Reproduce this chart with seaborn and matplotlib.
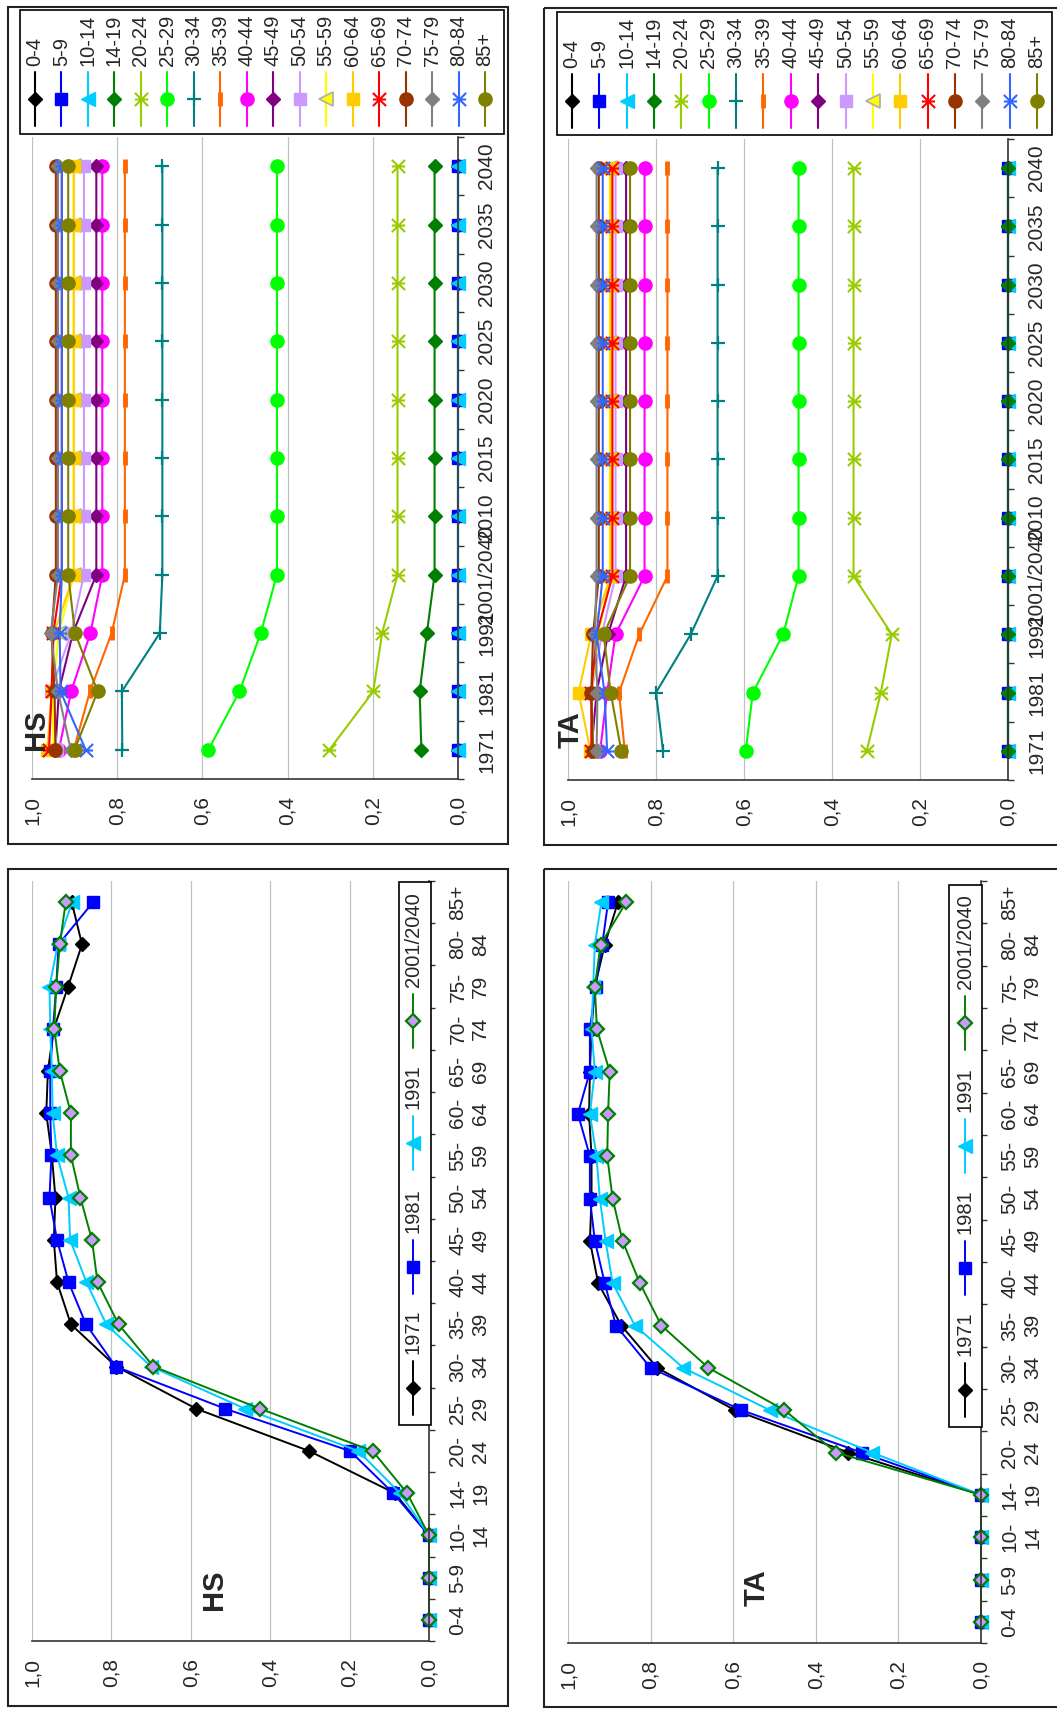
"""Participation rates by age group (HS / TA), rotated landscape panels."""

import matplotlib

matplotlib.use("Agg")

import matplotlib.pyplot as plt
import numpy as np
import seaborn as sns
from matplotlib.patches import Rectangle
from matplotlib.path import Path

AGE_GROUPS = ["0-4", "5-9", "10-14", "14-19", "20-24", "25-29", "30-34", "35-39", "40-44",
              "45-49", "50-54", "55-59", "60-64", "65-69", "70-74", "75-79", "80-84", "85+"]
AGE_TICKS = ["0-4", "5-9", "10-\n14", "14-\n19", "20-\n24", "25-\n29", "30-\n34", "35-\n39",
             "40-\n44", "45-\n49", "50-\n54", "55-\n59", "60-\n64", "65-\n69", "70-\n74",
             "75-\n79", "80-\n84", "85+"]
PROFILE_YEARS = ["1971", "1981", "1991", "2001/2040"]
YEARS = ["1971", "1981", "1991", "2001/2040", "2010", "2015", "2020", "2025", "2030", "2035", "2040"]
# which observed profile each year on the time axis uses (projection holds 2001 rates)
YEAR_PROFILE = ["1971", "1981", "1991", "2001/2040", "2001/2040", "2001/2040", "2001/2040",
                "2001/2040", "2001/2040", "2001/2040", "2001/2040"]

HS_1971 = [0, 0, 0, 0.086, 0.302, 0.586, 0.788, 0.902, 0.937, 0.945, 0.941, 0.950, 0.964, 0.960, 0.945, 0.909, 0.874, 0.900]
HS_1981 = [0, 0, 0, 0.090, 0.199, 0.513, 0.789, 0.864, 0.908, 0.937, 0.956, 0.951, 0.954, 0.954, 0.947, 0.939, 0.933, 0.846]
HS_1991 = [0, 0, 0, 0.073, 0.178, 0.463, 0.700, 0.813, 0.863, 0.904, 0.908, 0.937, 0.948, 0.950, 0.954, 0.956, 0.935, 0.899]
HS_2001 = [0, 0, 0, 0.055, 0.142, 0.425, 0.694, 0.782, 0.835, 0.849, 0.878, 0.902, 0.902, 0.930, 0.944, 0.939, 0.930, 0.915]

TA_1971 = [0, 0, 0, 0, 0.321, 0.596, 0.784, 0.871, 0.927, 0.947, 0.943, 0.943, 0.949, 0.947, 0.943, 0.935, 0.911, 0.879]
TA_1981 = [0, 0, 0, 0, 0.289, 0.580, 0.800, 0.884, 0.911, 0.935, 0.947, 0.947, 0.976, 0.947, 0.947, 0.933, 0.917, 0.903]
TA_1991 = [0, 0, 0, 0, 0.264, 0.511, 0.721, 0.838, 0.892, 0.909, 0.923, 0.931, 0.947, 0.935, 0.943, 0.939, 0.935, 0.919]
TA_2001 = [0, 0, 0, 0, 0.351, 0.476, 0.660, 0.774, 0.826, 0.868, 0.892, 0.905, 0.903, 0.899, 0.930, 0.935, 0.921, 0.859]

HS = dict(zip(PROFILE_YEARS, [HS_1971, HS_1981, HS_1991, HS_2001]))
TA = dict(zip(PROFILE_YEARS, [TA_1971, TA_1981, TA_1991, TA_2001]))

W, H = 1057, 1713
FONT = ["Liberation Sans", "DejaVu Sans"]
AXIS_COLOR = "#333333"
TICK_SIZE = 15

# X with a bar through it (Excel "star" marker turned on its side)
ASTER = Path([(-1, -1), (1, 1), (-1, 1), (1, -1), (-1, 0), (1, 0)],
             [Path.MOVETO, Path.LINETO] * 3)

AGE_STYLES = [
    dict(color="#000000", marker="D", markersize=7.5),
    dict(color="#0000FF", marker="s", markersize=9),
    dict(color="#00CCFF", marker="<", markersize=10),
    dict(color="#008000", marker="D", markersize=7.5),
    dict(color="#99CC00", marker=ASTER, markersize=9.5, markerfacecolor="none", markeredgewidth=1.5),
    dict(color="#00FF00", marker="o", markersize=9.5),
    dict(color="#008080", marker="+", markersize=10.5, markeredgewidth=1.6),
    dict(color="#FF6600", marker="|", markersize=9.5, markeredgewidth=3.5),
    dict(color="#FF00FF", marker="o", markersize=9.5),
    dict(color="#800080", marker="D", markersize=7.5),
    dict(color="#CC99FF", marker="s", markersize=9),
    dict(color="#FFFF00", marker="<", markersize=10, markerfacecolor="#FFFF00", markeredgecolor="#B0B0B0", markeredgewidth=1.3),
    dict(color="#FFCC00", marker="s", markersize=9),
    dict(color="#FF0000", marker=ASTER, markersize=9.5, markerfacecolor="none", markeredgewidth=1.5),
    dict(color="#993300", marker="o", markersize=9.5),
    dict(color="#808080", marker="D", markersize=7.5),
    dict(color="#3366FF", marker=ASTER, markersize=9.5, markerfacecolor="none", markeredgewidth=1.5),
    dict(color="#808000", marker="o", markersize=9.5),
]

YEAR_STYLES = [
    dict(color="#000000", marker="D", markersize=7),
    dict(color="#0000FF", marker="s", markersize=9),
    dict(color="#00CCFF", marker="<", markersize=10),
    dict(color="#008000", marker="D", markersize=7, markerfacecolor="#CC99FF", markeredgecolor="#008000", markeredgewidth=1.6),
]


def full_style(style):
    kw = dict(style)
    kw.setdefault("markerfacecolor", kw["color"])
    kw.setdefault("markeredgecolor", kw["color"])
    kw.setdefault("markeredgewidth", 1.0)
    return kw


def px_axes(fig, x0, y0, x1, y1):
    return fig.add_axes([x0 / W, 1 - y1 / H, (x1 - x0) / W, (y1 - y0) / H])


def style_axes(ax, labels):
    n = len(labels)
    ax.set_xlim(1.0, 0.0)
    ax.set_ylim(-0.5, n - 0.5)
    ax.set_xlabel("")
    ax.set_ylabel("")
    ax.set_xticks(np.arange(0, 1.01, 0.2))
    ax.set_xticklabels([f"{v:.1f}".replace(".", ",") for v in np.arange(0, 1.01, 0.2)])
    ax.set_yticks(range(n))
    ax.set_yticklabels(labels)
    ax.set_yticks(np.arange(-0.5, n, 1.0), minor=True)
    ax.yaxis.set_ticks_position("right")
    ax.tick_params(axis="y", which="major", length=0, pad=14, labelsize=TICK_SIZE,
                   left=False, right=True, labelleft=False, labelright=True)
    ax.tick_params(axis="y", which="minor", length=4.3, width=1, color=AXIS_COLOR,
                   direction="out", left=False, right=True)
    ax.tick_params(axis="x", which="major", length=4.3, width=1, color=AXIS_COLOR,
                   direction="out", pad=8, labelsize=TICK_SIZE, labelrotation=90)
    for lbl in ax.get_yticklabels():
        lbl.set_rotation(90)
        lbl.set_va("center")
        lbl.set_ha("left")
        lbl.set_multialignment("center")
        lbl.set_linespacing(1.25)
    for side in ("left", "top"):
        ax.spines[side].set_visible(False)
    for side in ("right", "bottom"):
        ax.spines[side].set_color(AXIS_COLOR)
        ax.spines[side].set_linewidth(1.2)
    ax.xaxis.grid(True, color="#C0C0C0", linewidth=0.9)
    ax.yaxis.grid(False)
    ax.set_axisbelow(True)


def plot_by_year(ax, rates):
    pos = np.arange(len(YEARS))
    for i, style in enumerate(AGE_STYLES):
        values = [rates[p][i] for p in YEAR_PROFILE]
        sns.lineplot(x=values, y=pos, ax=ax, orient="y", sort=False, estimator=None,
                     linewidth=1.5, clip_on=False, legend=False, **full_style(style))
    style_axes(ax, YEARS)


def plot_by_age(ax, rates):
    pos = np.arange(len(AGE_GROUPS))
    for year, style in zip(PROFILE_YEARS, YEAR_STYLES):
        sns.lineplot(x=rates[year], y=pos, ax=ax, orient="y", sort=False, estimator=None,
                     linewidth=1.4, clip_on=False, legend=False, **full_style(style))
    style_axes(ax, AGE_TICKS)


def legend_entry(ov, x, y, half, text_gap, name, style, lw):
    kw = full_style(style)
    ov.plot([x, x], [y - half, y + half], color=kw["color"], linewidth=lw, clip_on=False)
    ov.plot([x], [y], linestyle="none", clip_on=False,
            **{k: v for k, v in kw.items() if k != "color"})
    ov.text(x, y - text_gap, name, rotation=90, ha="center", va="bottom", fontsize=14.5)


def age_legend(ov, box, x_first, x_step, y_marker):
    ov.add_patch(Rectangle((box[0], box[1]), box[2] - box[0], box[3] - box[1],
                           facecolor="white", edgecolor="black", linewidth=1.2))
    for i, (name, style) in enumerate(zip(AGE_GROUPS, AGE_STYLES)):
        legend_entry(ov, x_first + i * x_step, y_marker, 27, 33, name, style, 1.5)


def year_legend(ov, box, x, y_markers):
    ov.add_patch(Rectangle((box[0], box[1]), box[2] - box[0], box[3] - box[1],
                           facecolor="white", edgecolor="black", linewidth=1.2))
    for name, style, y in zip(PROFILE_YEARS, YEAR_STYLES, y_markers):
        legend_entry(ov, x, y, 27, 34, name, style, 1.4)


def main():
    sns.set_style("white")
    plt.rcParams["font.family"] = FONT

    fig = plt.figure(figsize=(W / 100, H / 100), dpi=100, facecolor="white")

    ax_hs_year = px_axes(fig, 32, 137, 458, 779)
    ax_ta_year = px_axes(fig, 568, 139, 1008, 780)
    ax_hs_age = px_axes(fig, 32, 881, 429, 1641)
    ax_ta_age = px_axes(fig, 568, 881, 981, 1643)

    plot_by_year(ax_hs_year, HS)
    plot_by_year(ax_ta_year, TA)
    plot_by_age(ax_hs_age, HS)
    plot_by_age(ax_ta_age, TA)

    ov = fig.add_axes([0, 0, 1, 1], zorder=10)
    ov.set_xlim(0, W)
    ov.set_ylim(H, 0)
    ov.axis("off")
    ov.patch.set_visible(False)

    for x0, y0, x1, y1 in [(8, 7, 508, 844), (544, 8, 1064, 845),
                           (8, 869, 508, 1706), (544, 869, 1064, 1707)]:
        ov.add_patch(Rectangle((x0, y0), x1 - x0, y1 - y0, facecolor="none",
                               edgecolor="#222222", linewidth=1.5, clip_on=False))

    age_legend(ov, (20, 10, 504, 134), 35, 26.47, 99)
    age_legend(ov, (557, 12, 1052, 135), 572, 27.35, 101)
    year_legend(ov, (399, 882, 431, 1425), 413, [1388, 1267, 1143, 1021])
    year_legend(ov, (949, 885, 982, 1427), 965, [1390, 1268, 1146, 1023])

    for x, y, name in [(36, 730, "HS"), (571, 730, "TA"), (214, 1590, "HS"), (757, 1588, "TA")]:
        ov.text(x, y, name, rotation=90, ha="center", va="center",
                fontsize=21, fontweight="bold")

    fig.savefig("out.png", dpi=100, facecolor="white")
    plt.close(fig)


if __name__ == "__main__":
    main()
